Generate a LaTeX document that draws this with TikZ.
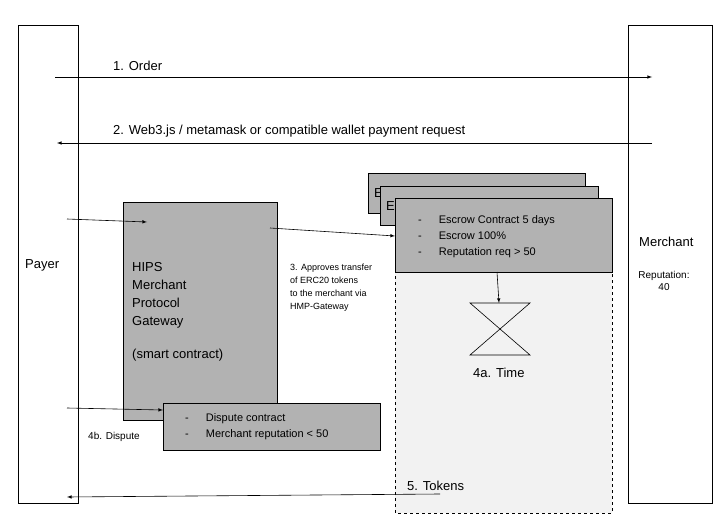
\documentclass[tikz,border=0pt]{standalone}
\usepackage{fontspec}
\setmainfont{Liberation Sans}
\begin{document}
\begin{tikzpicture}[x=1pt,y=-1pt,
  box/.style={draw=black,line width=0.6pt},
  gbox/.style={draw=black,fill=black!30,line width=0.6pt},
  arr/.style={-latex,line width=0.6pt},
  lbl/.style={inner sep=0pt,anchor=west,font=\fontsize{13}{15}\selectfont},
  sm/.style={inner sep=0pt,font=\fontsize{10}{12}\selectfont,align=left}]
\useasboundingbox[fill=white] (0,0) rectangle (726,524);
\draw[box] (18,25) rectangle (78,503);
\draw[box] (628,25) rectangle (712,503);
\node[lbl] at (25,265) {Payer};
\node[lbl] at (639,242) {Merchant};
\node[sm,align=center] at (664,281) {Reputation:\\40};
\coordinate (p1) at (55,77); \coordinate (m1) at (652,77);
\draw[arr] (p1) -- (m1);
\node[lbl] at (113,66) {1. Order};
\coordinate (m2) at (652,143); \coordinate (p2) at (57,143);
\draw[arr] (m2) -- (p2);
\node[lbl] at (113,131) {2. Web3.js / metamask or compatible wallet payment request};
% escrow stack
\draw[dashed,fill=black!5,line width=0.6pt] (395,198) rectangle (612,513);
\draw[gbox] (368,173) rectangle (585,213);
\node[lbl] at (374,193) {E};
\draw[gbox] (380,186) rectangle (598,225);
\node[lbl] at (386,206) {E};
\node[gbox,minimum width=217pt,minimum height=74pt,anchor=north west] (esc) at (395,198) {};
\node[sm,anchor=north west,font=\fontsize{11}{16}\selectfont] at (418,215) {-\hspace{17pt}Escrow Contract 5 days\\-\hspace{17pt}Escrow 100\%\\-\hspace{17pt}Reputation req > 50};
\coordinate (hg) at (499,303);
\draw[line width=0.6pt] (470,303) -- (530,303) -- (470,355) -- (530,355) -- cycle;
\draw[arr] (497,272) -- (hg);
\node[lbl] at (473,373) {4a. Time};
\node[lbl] at (407,486) {5. Tokens};
% HIPS
\node[gbox,minimum width=154pt,minimum height=218pt,anchor=north west] (hips) at (123,202) {};
\node[lbl,anchor=north west,align=left,font=\fontsize{13}{18}\selectfont] at (132,262) {HIPS\\Merchant\\Protocol\\Gateway\\[15pt](smart contract)};
\coordinate (pa) at (67,219); \coordinate (ha) at (147,222);
\draw[arr] (pa) -- (ha);
\coordinate (hb) at (270,228);
\draw[arr] (hb) -- (esc.west |- 0,236);
\node[sm,anchor=north west,font=\fontsize{9}{13}\selectfont] at (290,264) {3. Approves transfer\\of ERC20 tokens\\to the merchant via\\HMP-Gateway};
% dispute
\node[gbox,minimum width=217pt,minimum height=47pt,anchor=north west] (disp) at (163,403) {};
\node[sm,anchor=north west,font=\fontsize{11}{16}\selectfont] at (185,413) {-\hspace{17pt}Dispute contract\\-\hspace{17pt}Merchant reputation < 50};
\coordinate (pd) at (67,408);
\draw[arr] (pd) -- (disp.west |- 0,410);
\node[sm,anchor=west] at (88,437) {4b. Dispute};
\coordinate (t1) at (440,494); \coordinate (pt) at (67,497);
\draw[arr] (t1) -- (pt);
\end{tikzpicture}
\end{document}
